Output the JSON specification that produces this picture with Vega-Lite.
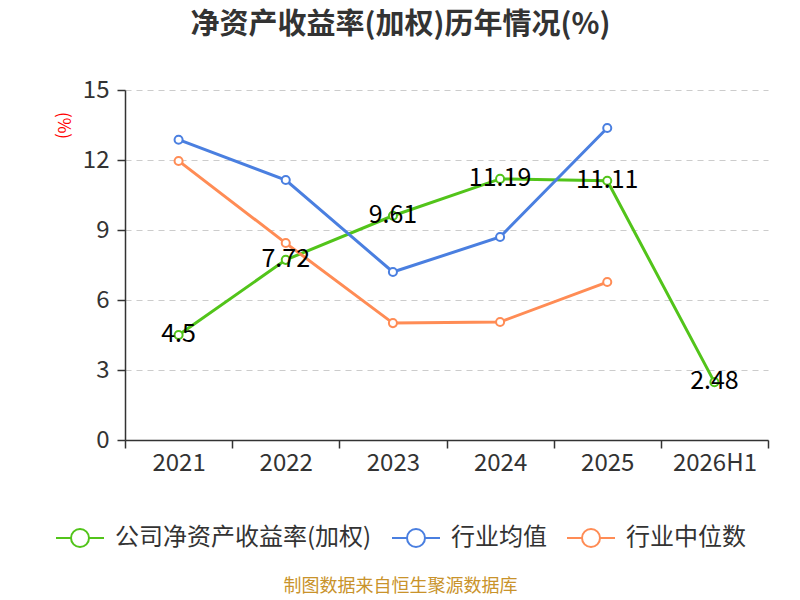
{
  "$schema": "https://vega.github.io/schema/vega-lite/v6.json",
  "autosize": "none",
  "width": 643,
  "height": 350,
  "padding": {"left": 125, "top": 90, "right": 32, "bottom": 160},
  "background": "#ffffff",
  "config": {
    "font": "Noto Sans CJK SC",
    "view": {"stroke": null}
  },
  "title": {
    "text": "净资产收益率(加权)历年情况(%)",
    "fontSize": 29,
    "fontWeight": "bold",
    "color": "#333333",
    "anchor": "middle",
    "dx": -46,
    "offset": 38
  },
  "data": {
    "values": [
      {"year": "2021", "series": "公司净资产收益率(加权)", "value": 4.5},
      {"year": "2022", "series": "公司净资产收益率(加权)", "value": 7.72},
      {"year": "2023", "series": "公司净资产收益率(加权)", "value": 9.61},
      {"year": "2024", "series": "公司净资产收益率(加权)", "value": 11.19},
      {"year": "2025", "series": "公司净资产收益率(加权)", "value": 11.11},
      {"year": "2026H1", "series": "公司净资产收益率(加权)", "value": 2.48},
      {"year": "2021", "series": "行业均值", "value": 12.87},
      {"year": "2022", "series": "行业均值", "value": 11.14},
      {"year": "2023", "series": "行业均值", "value": 7.2},
      {"year": "2024", "series": "行业均值", "value": 8.7},
      {"year": "2025", "series": "行业均值", "value": 13.37},
      {"year": "2021", "series": "行业中位数", "value": 11.96},
      {"year": "2022", "series": "行业中位数", "value": 8.44},
      {"year": "2023", "series": "行业中位数", "value": 5.01},
      {"year": "2024", "series": "行业中位数", "value": 5.06},
      {"year": "2025", "series": "行业中位数", "value": 6.77}
    ]
  },
  "encoding": {
    "x": {
      "field": "year",
      "type": "ordinal",
      "sort": ["2021", "2022", "2023", "2024", "2025", "2026H1"],
      "scale": {"type": "band", "paddingInner": 0, "paddingOuter": 0},
      "bandPosition": 0.5,
      "axis": {
        "title": "制图数据来自恒生聚源数据库",
        "titleColor": "#C9932B",
        "titleFontSize": 18,
        "titleFontWeight": "normal",
        "titlePadding": 102,
        "titleX": 275,
        "titleAlign": "center",
        "labelAngle": 0,
        "labelFontSize": 24,
        "labelColor": "#333333",
        "labelPadding": 3,
        "tickBand": "extent",
        "tickSize": 8,
        "tickColor": "#333333",
        "tickWidth": 1.5,
        "domainColor": "#333333",
        "domainWidth": 1.5,
        "grid": false
      }
    },
    "y": {
      "field": "value",
      "type": "quantitative",
      "scale": {"domain": [0, 15]},
      "axis": {
        "values": [0, 3, 6, 9, 12, 15],
        "title": "(%)",
        "titleColor": "#ff0000",
        "titleFontSize": 17,
        "titleFontWeight": "normal",
        "titleAngle": 90,
        "titleX": -63,
        "titleY": 35,
        "titleAlign": "center",
        "titleBaseline": "middle",
        "labelFontSize": 24,
        "labelColor": "#333333",
        "labelPadding": 8,
        "tickSize": 8,
        "tickColor": "#333333",
        "tickWidth": 1.5,
        "domainColor": "#333333",
        "domainWidth": 1.5,
        "gridColor": "#cccccc",
        "gridDash": [6, 5],
        "gridWidth": 1.2
      }
    }
  },
  "layer": [
    {
      "mark": {"type": "line", "strokeWidth": 3},
      "encoding": {
        "color": {
          "field": "series",
          "type": "nominal",
          "sort": ["公司净资产收益率(加权)", "行业均值", "行业中位数"],
          "scale": {
            "domain": ["公司净资产收益率(加权)", "行业均值", "行业中位数"],
            "range": ["#52C41A", "#4A7FE0", "#FF8C55"]
          },
          "legend": {
            "orient": "none",
            "legendX": -70,
            "legendY": 423,
            "direction": "horizontal",
            "title": null,
            "labelFontSize": 24,
            "labelColor": "#333333",
            "labelOffset": 10,
            "labelLimit": 0,
            "columnPadding": 16,
            "symbolType": "M -1 0 L -0.375 0 M 0.375 0 A 0.375 0.375 0 1 1 -0.375 0 A 0.375 0.375 0 1 1 0.375 0 M 0.375 0 L 1 0",
            "symbolSize": 2304,
            "symbolStrokeWidth": 2,
            "symbolFillColor": "#ffffff"
          }
        }
      }
    },
    {
      "mark": {"type": "point", "shape": "circle", "filled": false, "fill": "#ffffff", "size": 65, "strokeWidth": 2, "opacity": 1},
      "encoding": {
        "stroke": {
          "field": "series",
          "type": "nominal",
          "scale": {
            "domain": ["公司净资产收益率(加权)", "行业均值", "行业中位数"],
            "range": ["#52C41A", "#4A7FE0", "#FF8C55"]
          },
          "legend": null
        }
      }
    },
    {
      "transform": [{"filter": "datum.series === '公司净资产收益率(加权)'"}],
      "mark": {"type": "text", "fontSize": 25, "color": "#000000", "baseline": "middle", "align": "center", "dy": -1},
      "encoding": {
        "text": {"field": "value", "type": "quantitative"}
      }
    }
  ]
}
